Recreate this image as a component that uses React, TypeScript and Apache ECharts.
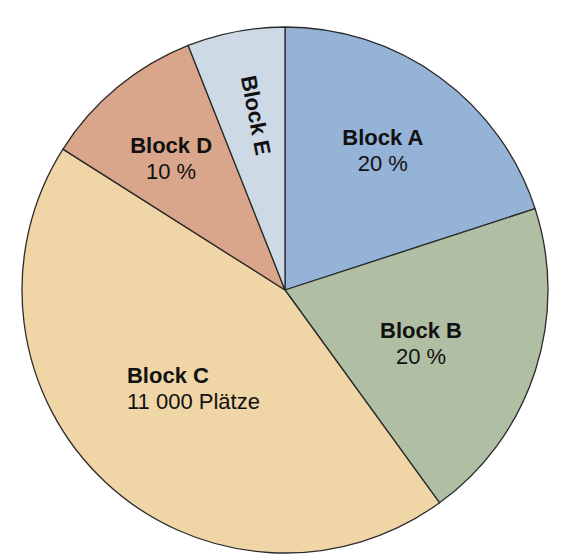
import React, { useEffect, useRef } from "react";
import * as echarts from "echarts";

const categories = ["Block A", "Block B", "Block C", "Block D", "Block E"];
const shares = [20, 20, 44, 10, 6];
const secondLines = ["20 %", "20 %", "11 000 Plätze", "10 %", ""];
const colors = ["#95b3d7", "#b0bea3", "#f0d6a6", "#d9a68b", "#cdd9e5"];
const labelOffsets = [[2, -8], [-19, 3], [20, -20], [-10, -6], [-14, -4]];
const labelRotate = [0, 0, 0, 0, -79];
const leftAligned = [false, false, true, false, false];

export default function App() {
  const ref = useRef<HTMLDivElement>(null);
  useEffect(() => {
    const chart = echarts.init(ref.current!, undefined, { renderer: "svg" });
    const font = "'Liberation Sans', Arial, sans-serif";
    const mainData = categories.map((name, i) => ({
      name,
      value: shares[i],
      itemStyle: { color: colors[i] },
    }));
    const labelData = categories.map((name, i) => {
      const l = leftAligned[i];
      const txt = secondLines[i]
        ? `{${l ? "bl" : "b"}|${name}}\n{${l ? "nl" : "n"}|${secondLines[i]}}`
        : `{b|${name}}`;
      return {
        name,
        value: shares[i],
        label: {
          formatter: txt,
          offset: labelOffsets[i],
          rotate: labelRotate[i],
        },
      };
    });
    chart.setOption({
      animation: false,
      backgroundColor: "#ffffff",
      series: [
        {
          type: "pie",
          center: [285, 290],
          radius: [0, 263],
          startAngle: 90,
          clockwise: true,
          silent: true,
          label: { show: false },
          labelLine: { show: false },
          itemStyle: { borderColor: "#2b2b2b", borderWidth: 1.3 },
          data: mainData,
        },
        {
          type: "pie",
          center: [285, 290],
          radius: [57, 263],
          startAngle: 90,
          clockwise: true,
          silent: true,
          itemStyle: { color: "rgba(0,0,0,0)", borderWidth: 0 },
          labelLine: { show: false },
          label: {
            show: true,
            position: "inside",
            color: "#111111",
            fontFamily: font,
            fontSize: 22,
            lineHeight: 26,
            rich: {
              b: { fontWeight: "bold", fontSize: 22, lineHeight: 26, fontFamily: font, color: "#111111" },
              n: { fontSize: 22, lineHeight: 26, fontFamily: font, color: "#111111" },
              bl: { fontWeight: "bold", fontSize: 22, lineHeight: 26, fontFamily: font, color: "#111111", align: "left" },
              nl: { fontSize: 22, lineHeight: 26, fontFamily: font, color: "#111111", align: "left" },
            },
          },
          data: labelData,
        },
      ],
    });
    return () => chart.dispose();
  }, []);
  return (
    <div
      ref={ref}
      style={{ position: "fixed", left: 0, top: 0, width: 578, height: 560 }}
    />
  );
}
